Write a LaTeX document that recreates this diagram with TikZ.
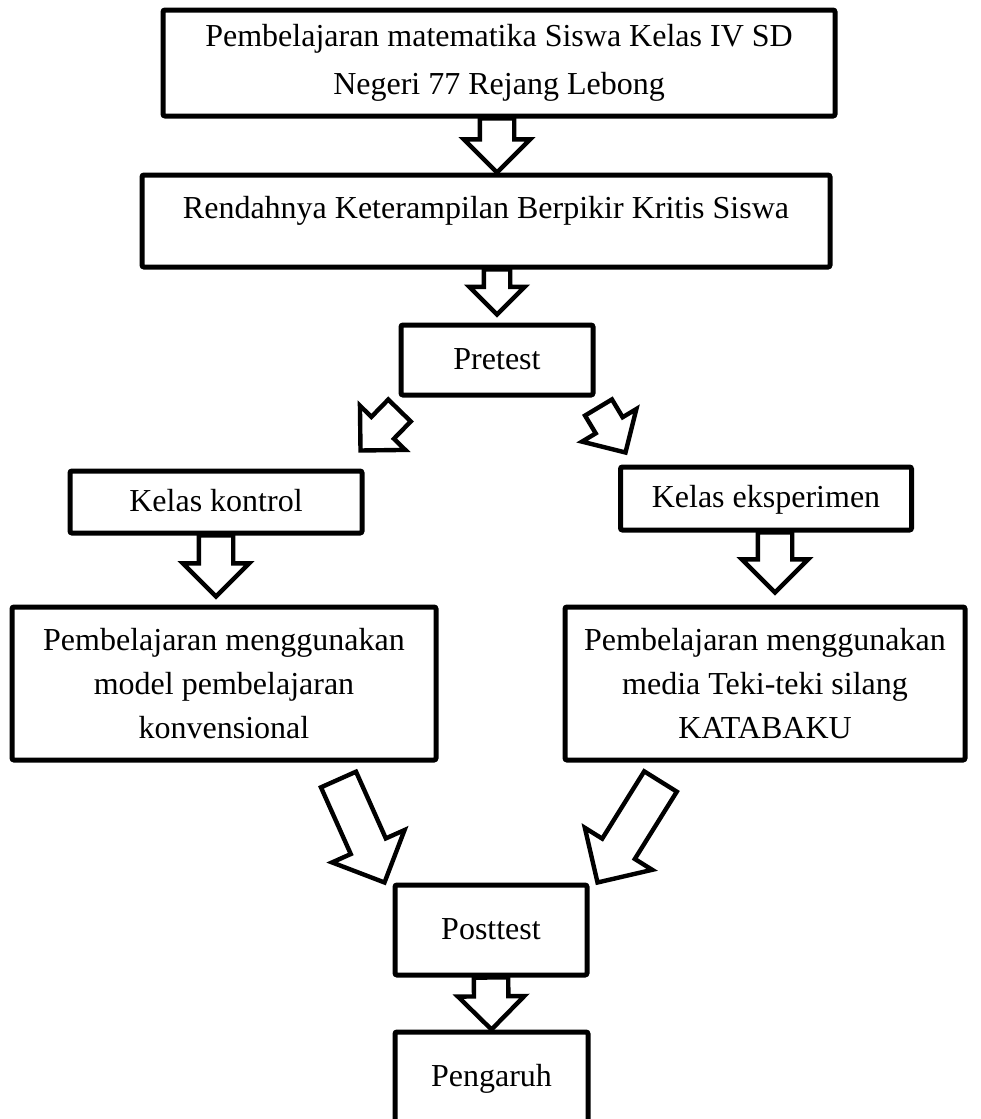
\documentclass[tikz,border=0pt]{standalone}
\usepackage{fontspec}
\setmainfont{Liberation Serif}
\usetikzlibrary{shapes.arrows,calc}

\tikzset{
	box/.style={draw, line width=2.5pt, rounded corners=1pt, align=center, inner sep=0pt,
		font=\fontsize{16}{22}\selectfont},
	oneline/.style={text height=12pt, text depth=3pt},
	arr/.style={single arrow, draw, line width=2.2pt, fill=white, inner xsep=0pt, inner ysep=7.5pt,
		minimum width=0pt, single arrow head extend=8pt, outer sep=0pt, anchor=tail},
	small/.style={inner ysep=5.5pt, single arrow head extend=7.25pt},
	diag/.style={inner ysep=6.75pt, single arrow head extend=8pt},
	big/.style={inner ysep=8.5pt, single arrow head extend=10.25pt},
	hollow/.style={to path={let \p1=($(\tikztotarget)-(\tikztostart)$) in
		node[arr, #1, minimum height={veclen(\x1,\y1)}, rotate={atan2(\y1,\x1)}] at (\tikztostart) {}}},
	hollow/.default={},
}

\begin{document}
\begin{tikzpicture}[x=0.5pt, y=-0.5pt]
	\useasboundingbox (0,0) rectangle (980,1119);
	
	\node[box, font=\fontsize{16}{24}\selectfont, minimum width=336pt, minimum height=53pt] (0) at (499, 63) {Pembelajaran matematika Siswa Kelas IV SD\\Negeri 77 Rejang Lebong};
	\node[box, text height=10pt, text depth=13pt, minimum width=344pt, minimum height=46pt] (1) at (486, 221) {Rendahnya Keterampilan Berpikir Kritis Siswa};
	\node[box, oneline, minimum width=96pt, minimum height=35pt] (2) at (497, 360) {Pretest};
	\node[box, oneline, minimum width=146pt, minimum height=31pt] (3) at (216, 502) {Kelas kontrol};
	\node[box, oneline, minimum width=145.5pt, minimum height=31.5pt] (4) at (766, 498.5) {Kelas eksperimen};
	\node[box, minimum width=212pt, minimum height=76.5pt] (5) at (224, 683.5) {Pembelajaran menggunakan\\model pembelajaran\\konvensional};
	\node[box, minimum width=200pt, minimum height=76.5pt] (6) at (765, 683.5) {Pembelajaran menggunakan\\media Teki-teki silang\\KATABAKU};
	\node[box, oneline, minimum width=96pt, minimum height=45pt] (7) at (491, 930) {Posttest};
	\node[box, oneline, minimum width=96.5pt, minimum height=45pt] (8) at (491.5, 1077) {Pengaruh};
	
	\path
	(0.south -| 2) edge[hollow] (1.north -| 2)
	(1.south -| 2) edge[hollow=small] ($(2.north)+(0,-8)$)
	($(2.south west)+(1,13)$) edge[hollow=diag] ($(3.north east)+(-4,-18)$)
	($(2.south east)+(3,10)$) edge[hollow=diag] ($(4.north west)+(7.5,-12)$)
	(3.south) edge[hollow] ($(3.south |- 5.north)+(0,-8)$)
	($(4.south)+(9,0)$) edge[hollow] ($(4.south |- 6.north)+(9,-12)$)
	($(5.south east)+(-100,17)$) edge[hollow=big] ($(7.north west)+(-8,0)$)
	($(6.south west)+(98,19)$) edge[hollow=big] ($(7.north east)+(8,0)$)
	(7.south) edge[hollow] (8.north)
	;
\end{tikzpicture}
\end{document}
